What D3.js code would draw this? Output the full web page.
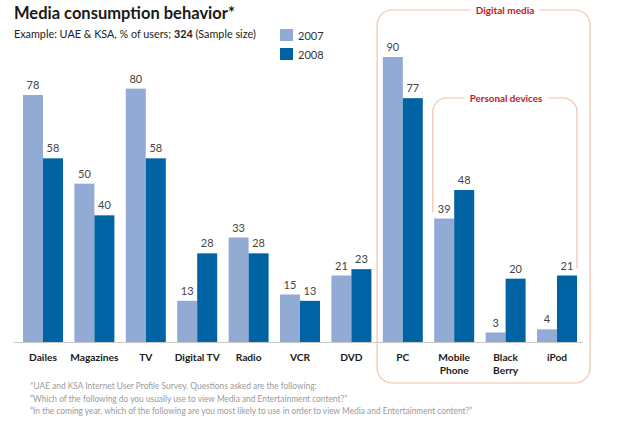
<!DOCTYPE html>
<html><head><meta charset="utf-8">
<script src="https://cdn.jsdelivr.net/npm/d3@7/dist/d3.min.js"></script>
<style>body{margin:0;background:#fff}svg{display:block}text{font-family:Lato,"Open Sans",sans-serif}</style>
</head><body><svg id="c" width="640" height="422"></svg>
<script>
const categories = ["Dailes","Magazines","TV","Digital TV","Radio","VCR","DVD","PC","Mobile Phone","Black Berry","iPod"];
const catLines = [["Dailes"],["Magazines"],["TV"],["Digital TV"],["Radio"],["VCR"],["DVD"],["PC"],["Mobile","Phone"],["Black","Berry"],["iPod"]];
const series = ["2007","2008"];
const values2007 = [78,50,80,13,33,15,21,90,39,3,4];
const values2008 = [58,40,58,28,28,13,23,77,48,20,21];
const footnotes = [
 "*UAE and KSA Internet User Profile Survey. Questions asked are the following:",
 "\u201CWhich of the following do you usually use to view Media and Entertainment content?\u201D",
 "\u201CIn the coming year, which of the following are you most likely to use in order to view Media and Entertainment content?\u201D"
];
const colors = {"2007":"#91abd4","2008":"#0063a3"};

const svg = d3.select("#c");
const x = d3.scaleBand().domain(categories).range([23,577]).paddingInner(0.222).paddingOuter(0);
const xs = d3.scaleBand().domain(series).range([0,x.bandwidth()]);
const y = d3.scaleLinear().domain([0,90]).range([342,57]);

// title
svg.append("text").attr("x",14).attr("y",19).attr("font-size",16.5).attr("font-weight",700).attr("fill","#1a1a1a").text("Media consumption behavior*");
const sub = svg.append("text").attr("x",14).attr("y",37.5).attr("font-size",10.8).attr("fill","#222");
sub.append("tspan").text("Example: UAE & KSA, % of users; ");
sub.append("tspan").attr("font-weight",700).text("324");
sub.append("tspan").text(" (Sample size)");

// legend
series.forEach((s,i)=>{
  svg.append("rect").attr("x",280).attr("y",29+i*19).attr("width",13).attr("height",12).attr("fill",colors[s]);
  svg.append("text").attr("x",298).attr("y",39.5+i*19).attr("font-size",11).attr("fill","#333").text(s);
});

// brackets
const bc = "#f2c2ab", red = "#c4161c";
const lblCx = 505;
const dmL = (x("DVD")+x.bandwidth()+x("PC"))/2;
const dmR = x("iPod")+x.bandwidth()+13;
const dmLabel = svg.append("text").attr("x",lblCx).attr("y",13.5).attr("text-anchor","middle").attr("font-size",10).attr("font-weight",700).attr("fill",red).text("Digital media");
const dmW = dmLabel.node().getComputedTextLength();
const r1 = 15, yT = 10, yB = 383;
const p = d3.path();
p.moveTo(lblCx-dmW/2-5,yT);
p.lineTo(dmL+r1,yT); p.arcTo(dmL,yT,dmL,yT+r1,r1);
p.lineTo(dmL,yB-r1); p.arcTo(dmL,yB,dmL+r1,yB,r1);
p.lineTo(dmR-r1,yB); p.arcTo(dmR,yB,dmR,yB-r1,r1);
p.lineTo(dmR,yT+r1); p.arcTo(dmR,yT,dmR-r1,yT,r1);
p.lineTo(lblCx+dmW/2+5,yT);
svg.insert("path","text").attr("d",p.toString()).attr("fill","none").attr("stroke",bc).attr("stroke-width",1.2);

const pdL = x("Mobile Phone")-1.5;
const pdR = x("iPod")+x.bandwidth();
const pdTop = 98, r2=14;
const leftEnd = y(values2007[8])-6;
const rightEnd = y(values2008[10])-7;
const pdLabel = svg.append("text").attr("x",lblCx+1).attr("y",101.5).attr("text-anchor","middle").attr("font-size",9.8).attr("font-weight",700).attr("fill",red).text("Personal devices");
const pdW = pdLabel.node().getComputedTextLength();
const pp = d3.path();
pp.moveTo(pdL,leftEnd); pp.lineTo(pdL,pdTop+r2); pp.arcTo(pdL,pdTop,pdL+r2,pdTop,r2); pp.lineTo(lblCx+1-pdW/2-6,pdTop);
pp.moveTo(lblCx+1+pdW/2+6,pdTop); pp.lineTo(pdR-r2,pdTop); pp.arcTo(pdR,pdTop,pdR,pdTop+r2,r2); pp.lineTo(pdR,rightEnd);
svg.insert("path","text").attr("d",pp.toString()).attr("fill","none").attr("stroke",bc).attr("stroke-width",1.2);

// bars
const data = categories.map((c,i)=>({c, vals:[{s:"2007",v:values2007[i]},{s:"2008",v:values2008[i]}]}));
const g = svg.append("g").selectAll("g").data(data).join("g").attr("transform",d=>`translate(${x(d.c)},0)`);
g.selectAll("rect").data(d=>d.vals).join("rect")
  .attr("x",d=>xs(d.s)).attr("width",xs.bandwidth())
  .attr("y",d=>y(d.v)).attr("height",d=>y(0)-y(d.v)).attr("fill",d=>colors[d.s]);
g.selectAll("text.v").data(d=>d.vals).join("text").attr("class","v")
  .attr("x",d=>xs(d.s)+xs.bandwidth()/2).attr("y",d=>y(d.v)-6)
  .attr("text-anchor","middle").attr("font-size",11).attr("fill","#444").text(d=>d.v);

// axis
svg.append("line").attr("x1",14).attr("x2",583).attr("y1",342.5).attr("y2",342.5).attr("stroke","#c8c8c8");

// category labels
categories.forEach((c,i)=>{
  const t = svg.append("text").attr("x",x(c)+x.bandwidth()/2).attr("y",361).attr("text-anchor","middle")
    .attr("font-size",10.2).attr("font-weight",700).attr("fill","#1a1a1a");
  catLines[i].forEach((l,j)=>t.append("tspan").attr("x",x(c)+x.bandwidth()/2).attr("dy",j?12.5:0).text(l));
});

// footnotes
footnotes.forEach((f,i)=>{
  const t = svg.append("text").attr("x",30).attr("y",389+i*12.5).attr("font-size",9.5).attr("fill","#9a9a9a").text(f);
  const w = t.node().getComputedTextLength();
  t.attr("textLength",w*0.88).attr("lengthAdjust","spacingAndGlyphs");
});
</script></body></html>
